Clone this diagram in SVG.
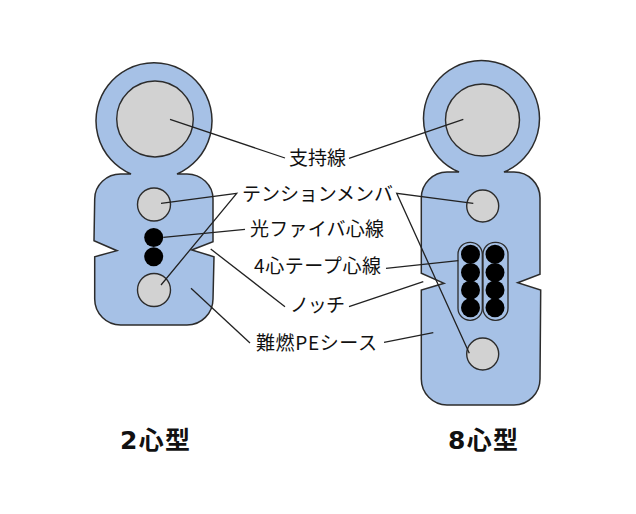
<svg xmlns="http://www.w3.org/2000/svg" width="636" height="514" viewBox="0 0 636 514">
<style>
.sheath{fill:#a6c1e6;stroke:#2c2c2c;stroke-width:1.5;stroke-linejoin:miter}
.member{fill:#d2d2d2;stroke:#2c2c2c;stroke-width:1.4}
.fiber{fill:#000}
.tube{fill:#a6c1e6;stroke:#2c2c2c;stroke-width:1.3}
.leader{fill:none;stroke:#222;stroke-width:1.3}
text{font-family:"Noto Sans CJK JP","Noto Sans CJK SC",sans-serif;fill:#111}
.lab{font-size:19px;font-weight:400}
.ttl{font-family:"DejaVu Sans","Noto Sans CJK JP",sans-serif;font-size:25px;font-weight:700}
</style>
<rect width="636" height="514" fill="#fff"/>
<g id="cable-2">
<path class="sheath" d="M131,174 A58,58 0 1 1 177,174 L187,174 A26,25 0 0 1 213,199 L213,241.7 L191.7,250 L214,256.7 L213,299 A26,26 0 0 1 187,325 L121,325 A26,26 0 0 1 94.7,299 L94.7,256.7 L117,250.7 L94,240.7 L94.7,199 A26,25 0 0 1 121,174 Z"/>
<ellipse class="member" cx="155" cy="119" rx="38.3" ry="38"/>
<circle class="member" cx="154" cy="204.5" r="16.5"/>
<circle class="member" cx="154" cy="290" r="16.5"/>
<circle class="fiber" cx="153.7" cy="237.5" r="9.5"/>
<circle class="fiber" cx="153.7" cy="256.7" r="9.5"/>
</g>
<g id="cable-8">
<path class="sheath" d="M459,172 A58,58 0 1 1 504,172 L514,172 A26,26 0 0 1 540,198 L540,274.3 L517.7,282.7 L540.7,290 L540,379 A26,26 0 0 1 514,405 L447,405 A26,26 0 0 1 421.3,379 L421.3,290 L444,283.3 L421.3,273.3 L421.3,198 A26,26 0 0 1 447,172 Z"/>
<ellipse class="member" cx="482.5" cy="120" rx="37" ry="36"/>
<circle class="member" cx="482.7" cy="206" r="16"/>
<circle class="member" cx="482.7" cy="354" r="16"/>
<rect class="tube" x="458" y="242.3" width="24.3" height="78" rx="12"/>
<rect class="tube" x="483" y="242.3" width="25" height="78" rx="12"/>
<g class="fiber">
<circle cx="470.5" cy="254.3" r="9.5"/><circle cx="470.5" cy="272.5" r="9.5"/><circle cx="470.5" cy="290" r="9.5"/><circle cx="470.5" cy="307.7" r="9.5"/>
<circle cx="495" cy="254.3" r="9.5"/><circle cx="495" cy="272.5" r="9.5"/><circle cx="495" cy="290" r="9.5"/><circle cx="495" cy="307.7" r="9.5"/>
</g>
</g>
<g id="connectors">
<path class="leader" d="M170,119.3 L285,158"/>
<path class="leader" d="M463.3,119.3 L349,158.3"/>
<path class="leader" d="M161,203.3 L236.7,193.3 L161,285"/>
<path class="leader" d="M473.3,203.3 L396.7,193.3 L469.3,353.3"/>
<path class="leader" d="M163.3,237.3 L245,229.3"/>
<path class="leader" d="M458.3,260.7 L386,268.3"/>
<path class="leader" d="M210.7,249 L285,306.7"/>
<path class="leader" d="M423.3,281.7 L349,306.7"/>
<path class="leader" d="M191,288.3 L250,343"/>
<path class="leader" d="M433.3,332.7 L384,342.3"/>
</g>
<g id="labels">
<text class="lab" x="289" y="164.5" textLength="57">支持線</text>
<text class="lab" x="242" y="201" textLength="151">テンションメンバ</text>
<text class="lab" x="250" y="236" textLength="134">光ファイバ心線</text>
<text class="lab" x="254" y="273" textLength="127">4心テープ心線</text>
<text class="lab" x="290" y="312" textLength="55">ノッチ</text>
<text class="lab" x="256" y="350" textLength="121">難燃PEシース</text>
<text class="ttl" x="120" y="449" textLength="70">2心型</text>
<text class="ttl" x="448" y="449" textLength="70">8心型</text>
</g>
</svg>
